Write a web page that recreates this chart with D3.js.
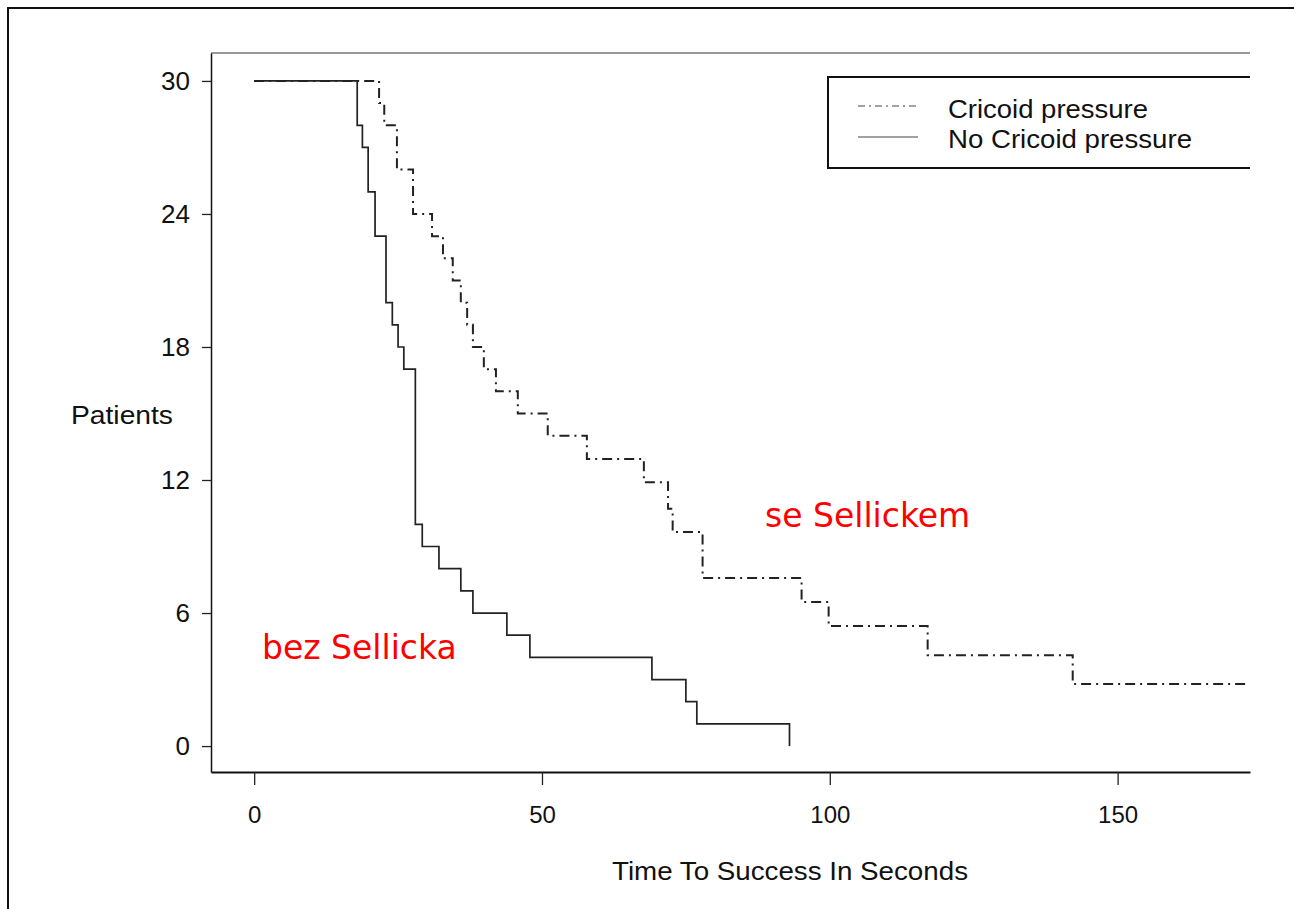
<!DOCTYPE html>
<html>
<head>
<meta charset="utf-8">
<script src="https://d3js.org/d3.v7.min.js"></script>
<style>
    body { margin: 0; background: #fff; }
    text { font-family: "Liberation Sans", Arial, sans-serif; fill: #111; }
</style>
</head>
<body>
<div id="svgDiv"></div>
<script>
    // Time to success (s) where the patient count drops, and the count after the drop
    var noCricoidTimes = [0, 17.9, 18.8, 19.8, 21.0, 22.9, 24.0, 25.0, 26.0, 28.0, 29.2, 32.1, 35.9, 38.0, 43.9, 47.9, 69.1, 75.0, 76.9, 93.0];
    var noCricoidCounts = [30, 28, 27, 25, 23, 20, 19, 18, 17, 10, 9, 8, 7, 6, 5, 4, 3, 2, 1, 0];

    var cricoidTimes = [0, 21.7, 22.6, 24.8, 27.6, 30.9, 32.8, 34.5, 35.9, 37.0, 38.0, 39.9, 42.0, 45.8, 51.0, 57.8, 67.7, 71.9, 72.7, 77.9, 95.1, 99.8, 117.0, 142.2, 173.0];
    var cricoidCounts = [30, 29, 28, 26, 24, 23, 22, 21, 20, 19, 18, 17, 16, 15, 14, 12.95, 11.9, 10.7, 9.65, 7.58, 6.5, 5.41, 4.1, 2.8, 2.8];

    var xTicks = [0, 50, 100, 150];
    var yTicks = [0, 6, 12, 18, 24, 30];

    var width = 1294, height = 909;
    var margin = {top: 53, right: 44, bottom: 137, left: 211};

    var svg = d3.select('#svgDiv').append('svg')
        .attr('width', width)
        .attr('height', height);

    // outer frame of the scanned figure (right and bottom edges are cut off)
    svg.append('path')
        .attr('d', 'M8,' + (height + 5) + 'V8H' + (width + 5))
        .attr('fill', 'none')
        .attr('stroke', '#111')
        .attr('stroke-width', 2);

    var x = d3.scaleLinear()
        .domain([-7.5, 173])
        .range([margin.left, width - margin.right]);

    var y = d3.scaleLinear()
        .domain([-1.17, 31.26])
        .range([height - margin.bottom, margin.top]);

    var g = svg.append('g');

    // plot box: top, left and bottom lines only
    g.append('line')
        .attr('x1', x(-7.5)).attr('x2', x(173))
        .attr('y1', y(31.26)).attr('y2', y(31.26))
        .attr('stroke', '#777').attr('stroke-width', 1.5);

    // Axe X
    var axisX = g.append('g')
        .attr('transform', 'translate(0,' + y(-1.17) + ')')
        .call(d3.axisBottom(x).tickValues(xTicks).tickSize(13).tickPadding(21).tickSizeOuter(0));
    axisX.select('.domain').attr('stroke', '#111').attr('stroke-width', 2);
    axisX.selectAll('.tick line').attr('stroke', '#222').attr('stroke-width', 1.3);
    axisX.selectAll('text').style('font-size', '24px').attr('fill', '#111')
        .style('font-family', '"Liberation Sans", Arial, sans-serif');

    // Axe Y
    var axisY = g.append('g')
        .attr('transform', 'translate(' + x(-7.5) + ',0)')
        .call(d3.axisLeft(y).tickValues(yTicks).tickSize(9).tickPadding(12).tickSizeOuter(0));
    axisY.select('.domain').attr('stroke', '#111').attr('stroke-width', 1.5);
    axisY.selectAll('.tick line').attr('stroke', '#222').attr('stroke-width', 1.3);
    axisY.selectAll('text').style('font-size', '26px').attr('fill', '#111')
        .style('font-family', '"Liberation Sans", Arial, sans-serif');

    // axis titles (the scan is a bit wider than the font, so stretch to the measured width)
    svg.append('text')
        .attr('x', 71).attr('y', 424)
        .style('font-size', '25px')
        .attr('textLength', 102).attr('lengthAdjust', 'spacingAndGlyphs')
        .text('Patients');

    svg.append('text')
        .attr('x', 612).attr('y', 880)
        .style('font-size', '25px')
        .attr('textLength', 356).attr('lengthAdjust', 'spacingAndGlyphs')
        .text('Time To Success In Seconds');

    // step curves
    var line = d3.line()
        .curve(d3.curveStepAfter)
        .x(function (d) { return x(d[0]); })
        .y(function (d) { return y(d[1]); });

    var cricoid = d3.zip(cricoidTimes, cricoidCounts);
    var noCricoid = d3.zip(noCricoidTimes, noCricoidCounts);

    g.append('path')
        .datum(cricoid)
        .attr('fill', 'none')
        .attr('d', line)
        .attr('stroke', '#222')
        .attr('stroke-width', 2)
        .attr('stroke-dasharray', '10,5,2,5');

    g.append('path')
        .datum(noCricoid)
        .attr('fill', 'none')
        .attr('d', line)
        .attr('stroke', '#222')
        .attr('stroke-width', 1.7);

    // legend (box open on the right)
    var legend = svg.append('g');
    legend.append('path')
        .attr('d', 'M' + x(173) + ',77H828V168H' + x(173))
        .attr('fill', 'none')
        .attr('stroke', '#111')
        .attr('stroke-width', 2);

    legend.append('line')
        .attr('x1', 858).attr('x2', 916).attr('y1', 106).attr('y2', 106)
        .attr('stroke', '#444').attr('stroke-width', 1.2)
        .attr('stroke-dasharray', '7,4,2,4');
    legend.append('line')
        .attr('x1', 858).attr('x2', 918).attr('y1', 137).attr('y2', 137)
        .attr('stroke', '#444').attr('stroke-width', 1.2);

    legend.append('text')
        .attr('x', 948).attr('y', 118)
        .style('font-size', '25px')
        .attr('textLength', 200).attr('lengthAdjust', 'spacingAndGlyphs')
        .text('Cricoid pressure');
    legend.append('text')
        .attr('x', 948).attr('y', 148)
        .style('font-size', '25px')
        .attr('textLength', 244).attr('lengthAdjust', 'spacingAndGlyphs')
        .text('No Cricoid pressure');

    // red annotations
    svg.append('text')
        .attr('x', 765).attr('y', 527)
        .style('font-family', '"DejaVu Sans", sans-serif')
        .style('font-size', '33px')
        .style('fill', '#ff0000')
        .text('se Sellickem');

    svg.append('text')
        .attr('x', 262).attr('y', 659)
        .style('font-family', '"DejaVu Sans", sans-serif')
        .style('font-size', '33px')
        .style('fill', '#ff0000')
        .text('bez Sellicka');
</script>
</body>
</html>
